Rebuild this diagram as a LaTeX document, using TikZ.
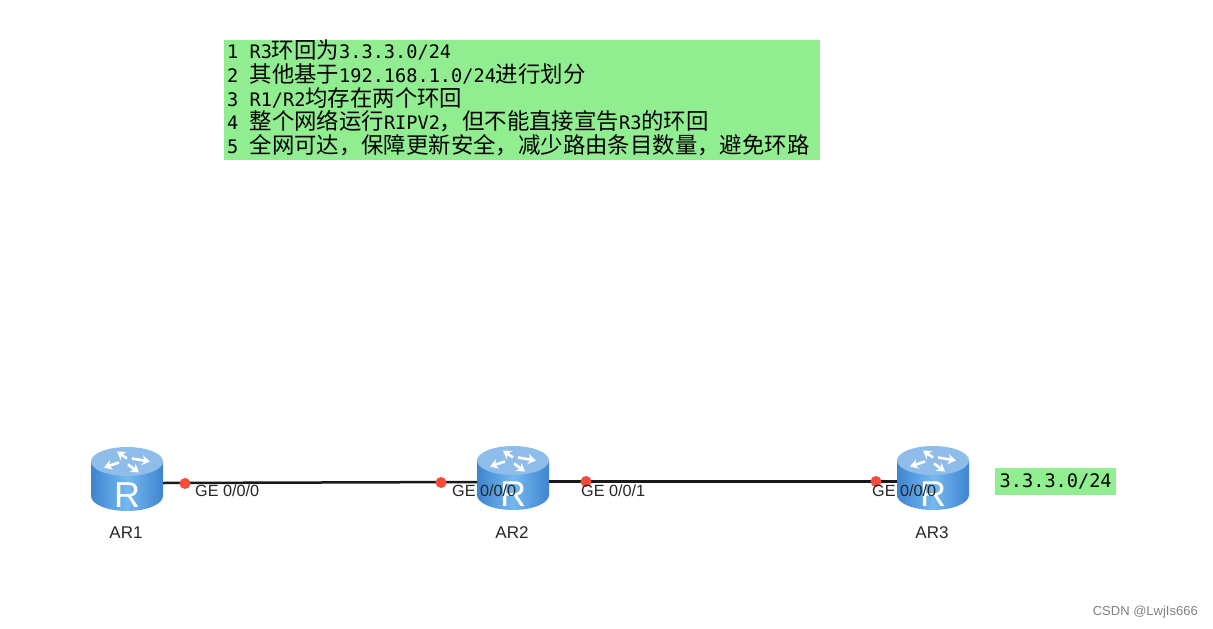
\documentclass[tikz,border=0pt]{standalone}
\usepackage{fontspec}
\setmainfont{Liberation Sans}
\newfontfamily\cjk{Noto Sans CJK SC}
\newfontfamily\monofont{DejaVu Sans Mono}
\usepackage{tikz}
\usetikzlibrary{positioning,arrows.meta}
\usepackage{xcolor}
\definecolor{notegreen}{HTML}{90EE90}
\definecolor{portred}{HTML}{F94A3C}
\definecolor{routerdark}{HTML}{3E85CF}
\definecolor{routerlight}{HTML}{74B8F0}
\definecolor{routertop}{HTML}{8FBDEA}
\newcommand{\zh}[1]{{\cjk\fontsize{22.4}{23.6}\selectfont #1}}
\newcommand{\numgap}{\hspace{11.2pt}}
\tikzset{
  routerbox/.style={minimum width=72pt,minimum height=64pt,inner sep=0pt,outer sep=0pt,
    path picture={
      \begin{scope}[shift={(path picture bounding box.center)}]
      \shade[left color=routerdark,right color=routerdark,middle color=routerlight]
        (-36,-17.5) -- (-36,17) arc[start angle=180,end angle=0,x radius=36,y radius=15] -- (36,-17.5) -- cycle;
      \fill[routertop] (0,-17.5) ellipse[x radius=36,y radius=14.5];
      \foreach \xa/\ya/\xb/\yb in {0/-3/-10/-10, -8/1/-23/6, 5/-3/23/0, 1/3/12/11}{
        \draw[white,line width=2.6pt,-{Stealth[length=8pt,width=10pt]}]
          (\xa,{-17.5+\ya}) -- (\xb,{-17.5+\yb});
      }
      \node[white,font=\fontsize{36}{36}\selectfont,inner sep=0pt] at (0,16) {R};
      \end{scope}
    }},
  link/.style={line width=2.5pt,black!90},
  portdot/.style={circle,fill=portred,minimum size=11pt,inner sep=0pt},
  portlabel/.style={font=\fontsize{16.2}{18}\selectfont,text=black!85,inner sep=0pt,anchor=west},
  routerlabel/.style={font=\fontsize{17}{19}\selectfont,text=black!85,inner sep=0pt},
  notebox/.style={fill=notegreen,inner sep=0pt}
}
\begin{document}
\begin{tikzpicture}[x=1pt,y=-1pt,node distance=14pt]
\useasboundingbox (0,0) rectangle (1213,629);
\node (ar1) [routerbox] at (127,479) {};
\node (ar2) [routerbox] at (513,478) {};
\node (ar3) [routerbox] at (933,478) {};
\node (lab1) [routerlabel,below=16pt of ar1,xshift=-1pt] {AR1};
\node (lab2) [routerlabel,below=16pt of ar2,xshift=-1pt] {AR2};
\node (lab3) [routerlabel,below=16pt of ar3,xshift=-1pt] {AR3};
\draw[link] ([yshift=-4pt]ar1.east) -- ([yshift=-4pt]ar2.west);
\draw[link] ([yshift=-3.5pt]ar2.east) -- ([yshift=-3.5pt]ar3.west);
\node (p1) [portdot] at (185,483.5) {};
\node (p2) [portdot] at (441,482.5) {};
\node (p3) [portdot] at (586,481.5) {};
\node (p4) [portdot] at (876,481.5) {};
\node (ge1) [portlabel] at (195,491) {GE 0/0/0};
\node (ge2) [portlabel] at (452,491) {GE 0/0/0};
\node (ge3) [portlabel] at (581,491) {GE 0/0/1};
\node (ge4) [portlabel] at (872,491) {GE 0/0/0};
\node (note) [notebox,anchor=north west,minimum width=596pt,minimum height=120pt,
  text width=590pt,align=left,font=\monofont\fontsize{18.6}{23.6}\selectfont] at (224,40)
  {1\numgap R3\zh{环回为}3.3.3.0/24\\
   2\numgap\zh{其他基于}192.168.1.0/24\zh{进行划分}\\
   3\numgap R1/R2\zh{均存在两个环回}\\
   4\numgap\zh{整个网络运行}RIPV2\zh{，但不能直接宣告}R3\zh{的环回}\\
   5\numgap\zh{全网可达，保障更新安全，减少路由条目数量，避免环路}\rule[-7pt]{0pt}{7pt}};
\node (loop) [notebox,anchor=north west,minimum width=121pt,minimum height=27pt,
  font=\monofont\fontsize{18.6}{23.6}\selectfont] at (995,468) {3.3.3.0/24};
\node (mark) [anchor=east,inner sep=0pt,text=black!50,font=\fontsize{13}{15}\selectfont] at (1198,612) {CSDN @LwjIs666};
\end{tikzpicture}
\end{document}
